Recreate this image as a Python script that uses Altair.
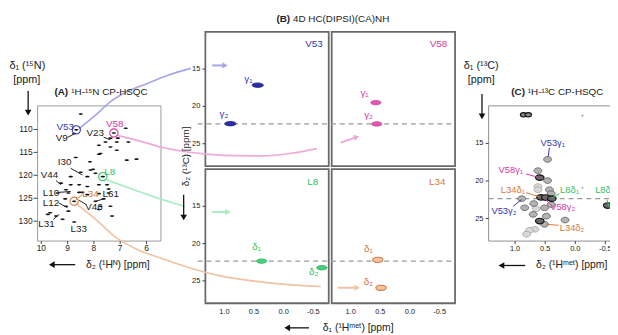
import altair as alt
import pandas as pd

FONT = "Liberation Sans"
INK = "#222222"
BLUE, BLUE_L = "#3336b3", "#a5a5ea"
MAG, MAG_L = "#d8379e", "#efaad8"
GRN, GRN_L = "#2cc463", "#a6ecc0"
ORG, ORG_L = "#d27a3e", "#efc3a4"

# panel coordinate systems: (x domain, x pixel range, y domain, y pixel range)
PANELS = {
    "A":   ([10.14, 5.45], [30, 155], [104.85, 134.35], [97, 234]),
    "BTL": ([1.32, -0.76], [200, 325], [10, 28], [22, 158]),
    "BTR": ([1.32, -0.76], [328, 453], [10, 28], [22, 158]),
    "BBL": ([1.32, -0.76], [200, 325], [10, 28], [161, 297]),
    "BBR": ([1.32, -0.76], [328, 453], [10, 28], [161, 297]),
    "C":   ([1.44, -0.70], [487, 617.5], [10, 28], [97, 234]),
}

# ---------------- data: (A) 1H-15N CP-HSQC
A_HN = [8.50, 8.67, 8.75, 7.24, 6.79, 7.37, 7.09, 7.56, 7.13, 6.69, 7.81, 7.37, 7.75, 8.69,
        8.15, 6.75, 6.38, 8.50, 8.13, 7.66, 7.13, 7.81, 8.25, 8.03, 7.94, 8.88, 9.25, 8.88,
        8.56, 8.25, 7.81, 7.50, 9.06, 9.38, 8.97, 8.56, 8.25, 7.81, 7.44, 7.44, 9.09, 8.75,
        7.94, 7.63, 9.06, 8.97, 7.75, 7.37, 7.81, 9.66, 9.44, 9.19, 8.75, 7.31, 9.75, 8.44]
A_N15 = [106.64, 110.08, 110.88, 110.77, 109.74, 111.89, 111.89, 112.75, 112.75, 112.75, 113.46,
         113.83, 115.25, 116.11, 117.06, 116.69, 116.48, 119.34, 118.85, 120.29, 114.54, 115.40,
         120.29, 118.70, 119.56, 120.29, 121.71, 122.08, 122.08, 122.44, 122.08, 122.08, 123.15,
         123.86, 123.86, 123.73, 124.23, 124.01, 123.86, 123.00, 125.15, 125.67, 125.67, 125.15,
         126.75, 127.83, 126.75, 126.75, 127.46, 128.17, 128.90, 129.61, 130.19, 128.90, 128.54,
         123.73]
A_LABELS = ["V53", "V9", "V23", "V58", "I30", "L8", "V44", "L10", "L34", "L61", "L12", "V46", "L31", "L33"]
A_LABEL_H = [9.09, 9.22, 7.95, 7.21, 9.11, 7.40, 9.69, 9.63, 8.13, 7.36, 9.63, 8.00, 9.80, 8.58]
A_LABEL_N = [109.37, 111.96, 110.77, 108.83, 117.02, 119.28, 120.03, 123.80, 124.12, 124.12,
             125.95, 126.92, 130.58, 131.66]
A_LEADER_RES = ["V9", "V23", "I30", "V44", "L10", "L12", "L31", "L61", "V46", "L34"]
A_LEADER_H1 = [9.01, 7.63, 8.88, 9.44, 9.34, 9.34, 9.54, 7.63, 8.29, 8.44]
A_LEADER_N1 = [111.74, 111.68, 118.48, 121.15, 123.73, 126.02, 129.61, 125.15, 126.38, 124.23]
A_LEADER_H2 = [8.71, 7.38, 8.44, 9.25, 8.88, 9.00, 9.32, 7.94, 8.56, 8.69]
A_LEADER_N2 = [110.88, 112.24, 119.92, 122.08, 123.52, 127.09, 128.54, 125.67, 125.46, 125.31]
HILITE = ["V53", "V58", "L8", "L34"]
HILITE_H = [8.67, 7.24, 7.66, 8.75]
HILITE_N = [110.08, 110.77, 120.29, 125.67]
A_XTICKS = [10, 9, 8, 7, 6]
A_YTICKS = [110, 115, 120, 125, 130]

# connector curves, in panel-A coordinates
CONN_V53_H = [8.56, 7.96, 7.33, 6.69, 5.94, 5.19, 4.32]
CONN_V53_N = [109.80, 107.00, 103.77, 101.62, 99.90, 98.18, 96.67]
CONN_V58_H = [7.10, 6.50, 5.94, 5.34, 4.63, 3.50, 2.56, 1.62, 0.50, -0.48]
CONN_V58_N = [111.31, 112.17, 113.03, 114.00, 114.75, 115.47, 115.72, 115.77, 115.19, 114.17]
CONN_L8_H = [7.51, 6.69, 5.94, 5.19, 4.55]
CONN_L8_N = [121.00, 122.72, 124.23, 125.67, 126.81]
CONN_L34_H = [8.68, 7.93, 7.18, 6.31, 5.38, 4.25, 3.24, 1.44, -0.63]
CONN_L34_N = [126.17, 129.61, 133.49, 136.29, 138.23, 140.38, 141.89, 143.40, 144.26]

# ---------------- data: (B) 4D strips
B_TICKS_X = [1.0, 0.5, 0.0, -0.5]
B_TICKS_Y = [15, 20, 25]
V53_H, V53_C = [0.438, 0.899], [17.15, 22.31]
V58_H, V58_C = [0.576, 0.560], [19.49, 22.35]
L8_H, L8_C = [0.372, -0.644], [22.35, 23.24]
L34_H, L34_C = [0.543, 0.488], [22.18, 25.93]
GAMMA = ["γ₁", "γ₂"]
DELTA = ["δ₁", "δ₂"]
REF_C = 22.35

# ---------------- data: (C) 1H-13C CP-HSQC
C_TOP_H = [0.86, 0.78]
C_TOP_C = [11.18, 11.18]
C_DARK_H = [0.59, 0.57, 0.49, 0.39, -0.54, 0.59]
C_DARK_C = [19.55, 22.18, 22.20, 22.35, 23.27, 25.33]
C_MID_H = [0.46, 0.62, 0.46, 0.43, 0.40, 0.89, 0.84, 0.40, 0.70, 0.48, 0.51, 0.17, 0.69, 0.51]
C_MID_C = [17.13, 18.63, 19.95, 21.17, 21.69, 22.35, 23.57, 23.14, 24.45, 24.68, 25.77, 25.20, 23.00, 23.57]
C_LIGHT_H = [0.62, 0.62, 0.65, 0.67, 0.76, 0.81]
C_LIGHT_C = [20.74, 21.17, 23.70, 26.43, 26.56, 27.08]
C_DOT_H = [-0.12, -0.12]
C_DOT_C = [11.31, 20.90]
C_XTICKS = [1.0, 0.5, 0.0, -0.5]
C_YTICKS = [15, 20, 25]

# ---------------- helpers
layers = []


def xy(p):
    xd, xr, yd, yr = PANELS[p]
    return {
        "x": alt.X("x:Q", scale=alt.Scale(domain=xd, range=xr, nice=False, zero=False), axis=None),
        "y": alt.Y("y:Q", scale=alt.Scale(domain=yd, range=yr, nice=False, zero=False), axis=None),
    }


def ellipse(r):
    k = 0.5523
    return (f"M-1,0C-1,{-k*r:.3f},{-k:.3f},{-r:.3f},0,{-r:.3f}"
            f"C{k:.3f},{-r:.3f},1,{-k*r:.3f},1,0"
            f"C1,{k*r:.3f},{k:.3f},{r:.3f},0,{r:.3f}"
            f"C{-k:.3f},{r:.3f},-1,{k*r:.3f},-1,0Z")


def add_points(p, xs, ys, shape, size, fill, stroke=None, sw=0.8, angle=None):
    df = pd.DataFrame({"x": xs, "y": ys})
    kw = dict(shape=shape, size=size, filled=True, fill=fill, opacity=1)
    if stroke:
        kw["stroke"] = stroke
        kw["strokeWidth"] = sw
    if angle is not None:
        kw["angle"] = angle
    layers.append(alt.Chart(df).mark_point(**kw).encode(**xy(p)))


def add_rings(p, xs, ys, colors, size=70):
    df = pd.DataFrame({"x": xs, "y": ys, "c": colors})
    layers.append(alt.Chart(df).mark_point(shape="circle", size=size, filled=False, strokeWidth=1.1,
                                           opacity=1).encode(stroke=alt.Stroke("c:N", scale=None), **xy(p)))


def add_text(p, xs, ys, labels, colors, size, align="center", weight="normal", angle=None):
    if isinstance(colors, str):
        colors = [colors] * len(labels)
    df = pd.DataFrame({"x": xs, "y": ys, "t": labels, "c": colors})
    kw = dict(font=FONT, fontSize=size, align=align, baseline="middle", fontWeight=weight)
    if angle is not None:
        kw["angle"] = angle
    layers.append(alt.Chart(df).mark_text(**kw).encode(
        text="t:N", color=alt.Color("c:N", scale=None), **xy(p)))


def add_segs(p, x, y, x2, y2, colors, width=1.0, dash=None):
    if isinstance(colors, str):
        colors = [colors] * len(x)
    df = pd.DataFrame({"x": x, "y": y, "x2": x2, "y2": y2, "c": colors})
    kw = dict(strokeWidth=width)
    if dash:
        kw["strokeDash"] = dash
    layers.append(alt.Chart(df).mark_rule(**kw).encode(
        x2="x2:Q", y2="y2:Q", color=alt.Color("c:N", scale=None), **xy(p)))


def add_curve(p, xs, ys, color, width=1.7):
    df = pd.DataFrame({"x": xs, "y": ys, "i": list(range(len(xs)))})
    layers.append(alt.Chart(df).mark_line(color=color, strokeWidth=width, interpolate="monotone").encode(
        order="i:Q", **xy(p)))


def add_frame(p, color, width):
    xd, xr, yd, yr = PANELS[p]
    df = pd.DataFrame({"x": [xd[0]], "x2": [xd[1]], "y": [yd[0]], "y2": [yd[1]]})
    layers.append(alt.Chart(df).mark_rect(fillOpacity=0, stroke=color, strokeWidth=width).encode(
        x2="x2:Q", y2="y2:Q", **xy(p)))


def fmt(v):
    return f"{v:.1f}"


# ---------------- frames
add_frame("A", "#9a9a9a", 1)
for p in ["BTL", "BTR", "BBL", "BBR"]:
    add_frame(p, "#6a6a6a", 1.8)
add_frame("C", "#8f8f8f", 1)

# reference dashed lines
add_segs("BTL", [1.45], [REF_C], [-2.89], [REF_C], "#9a9a9a", 1.3, [5, 4])
add_segs("BBL", [1.45], [REF_C], [-2.89], [REF_C], "#9a9a9a", 1.3, [5, 4])
add_segs("C", [1.44], [REF_C], [-0.70], [REF_C], "#9a9a9a", 1.3, [5, 4])

# connector curves
add_curve("A", CONN_V53_H, CONN_V53_N, BLUE_L)
add_curve("A", CONN_V58_H, CONN_V58_N, MAG_L)
add_curve("A", CONN_L8_H, CONN_L8_N, GRN_L)
add_curve("A", CONN_L34_H, CONN_L34_N, ORG_L)

# short arrows inside the strips
add_segs("BTL", [1.204], [14.5], [1.0], [14.5], BLUE_L, 2)
add_points("BTL", [0.99], [14.5], "triangle-right", 40, BLUE_L)
add_segs("BTR", [1.17], [24.86], [0.90], [24.11], MAG_L, 2)
add_points("BTR", [0.90], [24.11], "triangle-right", 40, MAG_L, angle=342)
add_segs("BBL", [1.204], [15.76], [0.95], [15.76], GRN_L, 2)
add_points("BBL", [0.94], [15.76], "triangle-right", 40, GRN_L)
add_segs("BBR", [1.22], [25.92], [0.90], [25.92], ORG_L, 2)
add_points("BBR", [0.89], [25.92], "triangle-right", 40, ORG_L)

# ---------------- panel A content
add_points("A", A_HN, A_N15, ellipse(0.38), 20, "#111111")
lab_cols = [{"V53": BLUE, "V58": MAG, "L8": GRN, "L34": ORG}.get(l, INK) for l in A_LABELS]
add_text("A", A_LABEL_H, A_LABEL_N, A_LABELS, lab_cols, 10)
lead_cols = [ORG if r == "L34" else INK for r in A_LEADER_RES]
add_segs("A", A_LEADER_H1, A_LEADER_N1, A_LEADER_H2, A_LEADER_N2, lead_cols, 1)
add_rings("A", HILITE_H, HILITE_N, [BLUE, MAG, GRN, ORG])

# axes of A
add_segs("A", [10.14] * 5, A_YTICKS, [10.29] * 5, A_YTICKS, "#444444", 1)
add_text("A", [10.33] * 5, A_YTICKS, [str(v) for v in A_YTICKS], INK, 8.5, align="right")
add_segs("A", A_XTICKS, [134.35] * 5, A_XTICKS, [135.0] * 5, "#444444", 1)
add_text("A", A_XTICKS, [135.9] * 5, [str(v) for v in A_XTICKS], INK, 8.5)
add_text("A", [10.53, 10.55], [96.2, 99.3], ["δ₁ (¹⁵N)", "[ppm]"], INK, 11)
add_segs("A", [10.50], [101.6], [10.50], [106.0], "#111111", 1.3)
add_points("A", [10.50], [106.3], "triangle-down", 45, "#111111")
add_segs("A", [8.71], [139.5], [9.55], [139.5], "#111111", 1.3)
add_points("A", [9.60], [139.5], "triangle-left", 45, "#111111")
add_text("A", [8.30], [139.5], ["δ₂ (¹Hᴺ) [ppm]"], INK, 10.5, align="left")
add_text("A", [9.50], [101.8], ["(A)"], INK, 10, align="left", weight="bold")
add_text("A", [8.86], [101.8], ["¹H-¹⁵N CP-HSQC"], INK, 10, align="left")

# ---------------- panel B content
add_points("BTL", V53_H, V53_C, ellipse(0.4), 130, "#2a2ca8", stroke="#1b1d85")
add_points("BTR", V58_H, V58_C, ellipse(0.42), 110, "#e257ad", stroke="#c93b95")
add_points("BBL", L8_H, L8_C, ellipse(0.42), 110, "#45d27e", stroke="#22a857")
add_points("BBR", L34_H, L34_C, ellipse(0.5), 110, "#f3c3a2", stroke=ORG, sw=1.1)
add_text("BTL", [0.593, 1.009], [16.3, 21.0], GAMMA, BLUE, 10)
add_text("BTR", [0.766, 0.699], [18.2, 21.2], GAMMA, MAG, 10)
add_text("BBL", [0.455, -0.505], [20.5, 23.8], DELTA, GRN, 10)
add_text("BBR", [0.699, 0.699], [20.7, 25.1], DELTA, ORG, 10)
add_text("BTL", [-0.51], [11.6], ["V53"], BLUE, 10)
add_text("BTR", [-0.48], [11.6], ["V58"], MAG, 10)
add_text("BBL", [-0.49], [11.7], ["L8"], GRN, 10)
add_text("BBR", [-0.46], [11.7], ["L34"], ORG, 10)
for p in ["BTL", "BBL"]:
    add_segs(p, [1.32] * 3, B_TICKS_Y, [1.37] * 3, B_TICKS_Y, "#444444", 1)
    add_text(p, [1.405] * 3, B_TICKS_Y, [str(v) for v in B_TICKS_Y], INK, 7.5, align="right")
for p in ["BBL", "BBR"]:
    add_text(p, B_TICKS_X, [29.2] * 4, [fmt(v) for v in B_TICKS_X], INK, 7.5)
add_text("BTL", [0.122], [8.3], ["(B)"], INK, 10, align="left", weight="bold")
add_text("BTL", [-0.156], [8.3], ["4D HC(DIPSI)(CA)NH"], INK, 10, align="left")
add_text("BTL", [1.653], [26.7], ["δ₂ (¹³C) [ppm]"], INK, 10, angle=270)
add_segs("BBL", [1.686], [13.44], [1.686], [16.6], "#111111", 1.3)
add_points("BBL", [1.686], [16.5], "triangle-down", 45, "#111111")
add_segs("BBL", [-0.427], [31.3], [-0.04], [31.3], "#111111", 1.3)
add_points("BBL", [-0.06], [31.3], "triangle-left", 45, "#111111")
add_text("BBL", [-0.66], [31.3], ["δ₁ (¹Hᵐᵉᵗ) [ppm]"], INK, 10.5, align="left")

# ---------------- panel C content
add_points("C", C_LIGHT_H, C_LIGHT_C, ellipse(0.72), 64, "#d9d9d9", stroke="#a0a0a0")
add_points("C", C_MID_H, C_MID_C, ellipse(0.72), 64, "#b3b3b3", stroke="#5a5a5a")
add_points("C", C_DARK_H, C_DARK_C, ellipse(0.65), 75, "#6a6a6a", stroke="#151515", sw=1.2)
add_points("C", C_TOP_H, C_TOP_C, ellipse(0.7), 40, "#8a8a8a", stroke="#151515", sw=1.2)
add_points("C", C_DOT_H, C_DOT_C, "circle", 5, "#aaaaaa")
C_LAB = ["V53γ₁", "V58γ₁", "L34δ₁", "L8δ₁", "V53γ₂", "V58γ₂", "L34δ₂"]
C_LAB_H = [0.375, 1.071, 1.038, 0.096, 1.186, 0.21, 0.055]
C_LAB_C = [14.99, 18.54, 21.26, 21.17, 24.02, 23.44, 26.20]
C_COLS = [BLUE, MAG, ORG, GRN, BLUE, MAG, ORG]
add_segs("C", [0.43, 0.817, 0.817, 0.265, -0.527, 1.03, 0.43, 0.276],
         [15.56, 19.07, 21.56, 21.69, 22.48, 23.36, 23.0, 25.90],
         [0.45, 0.62, 0.59, 0.386, -0.56, 0.894, 0.51, 0.484],
         [16.79, 19.50, 22.13, 22.26, 23.40, 22.48, 22.39, 25.77],
         [BLUE, MAG, ORG, GRN, GRN, BLUE, MAG, ORG], 1)
add_text("C", C_LAB_H, C_LAB_C, C_LAB, C_COLS, 9.5)
add_text("C", [-0.33], [21.17], ["L8δ₂"], GRN, 9.5, align="left")
add_segs("C", [1.44] * 3, C_YTICKS, [1.49] * 3, C_YTICKS, "#444444", 1)
add_text("C", [1.525] * 3, C_YTICKS, [str(v) for v in C_YTICKS], INK, 7.5, align="right")
add_segs("C", C_XTICKS, [28.0] * 4, C_XTICKS, [28.4] * 4, "#444444", 1)
add_text("C", C_XTICKS, [29.05] * 4, [fmt(v) for v in C_XTICKS], INK, 7.5)
add_text("C", [1.563, 1.563], [4.74, 6.52], ["δ₁ (¹³C)", "[ppm]"], INK, 11)
add_segs("C", [1.55], [8.42], [1.55], [11.2], "#111111", 1.3)
add_points("C", [1.55], [11.4], "triangle-down", 45, "#111111")
add_segs("C", [0.833], [31.25], [1.20], [31.25], "#111111", 1.3)
add_points("C", [1.227], [31.25], "triangle-left", 45, "#111111")
add_text("C", [0.653], [31.25], ["δ₂ (¹Hᵐᵉᵗ) [ppm]"], INK, 10.5, align="left")
add_text("C", [1.063], [8.12], ["(C)"], INK, 10, align="left", weight="bold")
add_text("C", [0.789], [8.12], ["¹H-¹³C CP-HSQC"], INK, 10, align="left")

chart = alt.layer(*layers).resolve_scale(x="independent", y="independent").properties(
    width=610, height=327, padding=0, autosize=alt.AutoSizeParams(type="none")
).configure_view(strokeWidth=0)

chart.save("out.html", embed_options={"renderer": "svg", "actions": False})
